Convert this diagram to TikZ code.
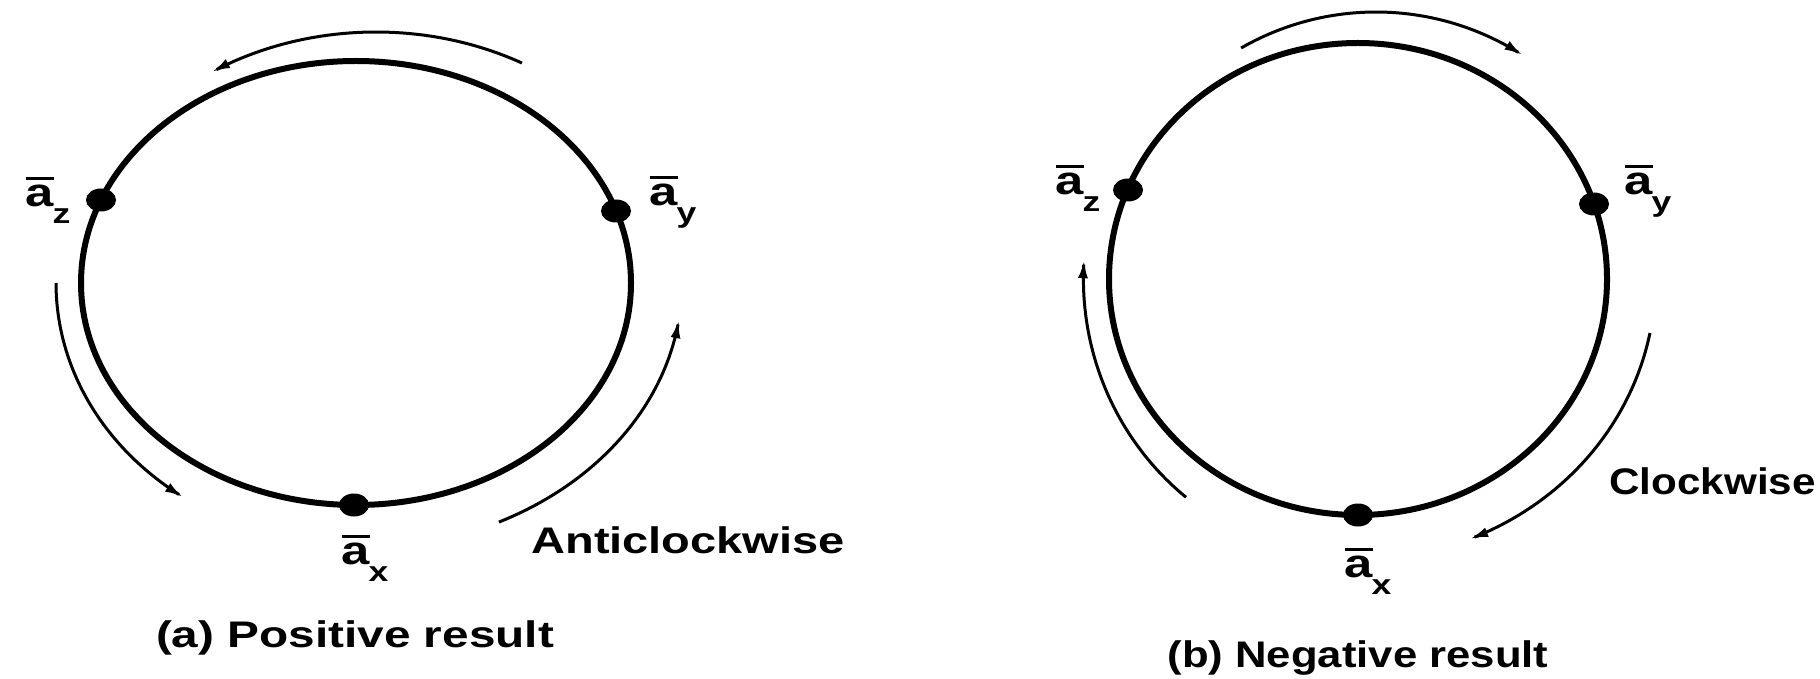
\documentclass[tikz,border=0pt]{standalone}
\usepackage{fontspec}
\usepackage{graphicx}
\setmainfont{Liberation Sans}
\usetikzlibrary{arrows.meta,shapes.geometric}
\newcommand\wide[2]{\scalebox{#1}[1]{#2}}
\newcommand\avec[1]{\scalebox{1.27}[1]{\setbox0\hbox{\fontsize{20pt}{20pt}\selectfont a}\vbox{\hrule height 1.5pt width \wd0 \kern2.5pt \box0}\kern-0.5pt\raisebox{-8.5pt}{\fontsize{14pt}{14pt}\selectfont #1}}}
\tikzset{
  ring/.style={line width=3pt, draw=black},
  arr/.style={line width=1.5pt, draw=black, -{Latex[length=9pt,width=5pt]}},
  dotnode/.style={shape=ellipse, fill=black, minimum width=15pt, minimum height=11.5pt, inner sep=0pt},
  vlabel/.style={inner sep=0pt, font=\bfseries},
  txt/.style={inner sep=0pt, font=\bfseries\fontsize{18.5pt}{20pt}\selectfont},
}
\begin{document}
\begin{tikzpicture}[x=0.5pt,y=-0.5pt]
\useasboundingbox (0,0) rectangle (1820,679);
% ---------- (a) ----------
\draw[ring] (356,283) ellipse [x radius=137.5pt, y radius=111pt];
\node[dotnode] (az1) at (101,200) {};
\node[dotnode] (ay1) at (616,211) {};
\node[dotnode] (ax1) at (354,505) {};
\node[vlabel] (laz1) at (48,200) {\avec{z}};
\node[vlabel] (lay1) at (673,202) {\avec{y}};
\node[vlabel] (lax1) at (365,558) {\avec{x}};
\draw[arr] plot[domain=0:1, samples=60, variable=\t] ({376+303*cos(-61.2-61.6*\t)}, {283+251*sin(-61.2-61.6*\t)});
\draw[arr] plot[domain=0:1, samples=60, variable=\t] ({356+300*cos(180-54.8*\t)}, {283+262*sin(180-54.8*\t)});
\draw[arr] plot[domain=0:1, samples=60, variable=\t] ({356+326*cos(64-56*\t)}, {283+266*sin(64-56*\t)});
\node[txt, anchor=base west] (acw) at (531,553) {\wide{1.27}{Anticlockwise}};
\node[txt] (capa) at (355,638) {\wide{1.29}{(a) Positive result}};
% ---------- (b) ----------
\draw[ring] (1358,279) ellipse [x radius=124.5pt, y radius=118pt];
\node[dotnode] (az2) at (1128,190) {};
\node[dotnode] (ay2) at (1594,204) {};
\node[dotnode] (ax2) at (1358,515) {};
\node[vlabel] (laz2) at (1078,188) {\avec{z}};
\node[vlabel] (lay2) at (1648,191) {\avec{y}};
\node[vlabel] (lax2) at (1368,571) {\avec{x}};
\draw[arr] plot[domain=0:1, samples=60, variable=\t] ({1376+269*cos(-120.1+63.1*\t)}, {279+267*sin(-120.1+63.1*\t)});
\draw[arr] plot[domain=0:1, samples=60, variable=\t] ({1358+274.6*cos(128.8+55.1*\t)}, {279+280*sin(128.8+55.1*\t)});
\draw[arr] plot[domain=0:1, samples=60, variable=\t] ({1358+297.5*cos(11.1+56.8*\t)}, {279+280.6*sin(11.1+56.8*\t)});
\node[txt, anchor=base west] (cw) at (1609,494) {\wide{1.14}{Clockwise}};
\node[txt] (capb) at (1358,658) {\wide{1.18}{(b) Negative result}};
\end{tikzpicture}
\end{document}
